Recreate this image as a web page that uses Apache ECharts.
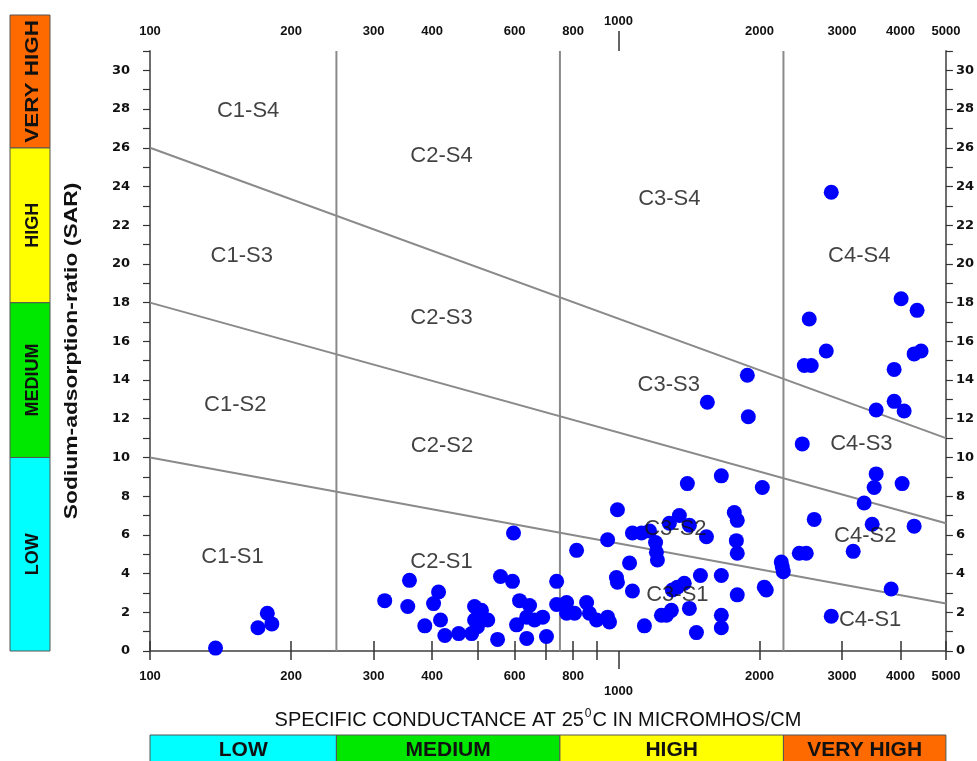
<!DOCTYPE html>
<html>
<head>
<meta charset="utf-8">
<script src="https://cdn.jsdelivr.net/npm/echarts@6/dist/echarts.min.js"></script>
<style>
html, body { margin: 0; padding: 0; background: #fff; }
#main { width: 977px; height: 761px; }
</style>
</head>
<body>
<div id="main"></div>
<script>
// conductance axis (log), ticks and labels
var ecTicks = [100, 200, 300, 400, 500, 600, 700, 800, 900, 2000, 3000, 4000, 5000];
var ecLabels = [100, 200, 300, 400, 600, 800, 2000, 3000, 4000, 5000];
var ecBigTick = [1000];
// salinity classes C1..C4
var ecBreaks = [100, 250, 750, 2250, 5000];
var classNames = ['LOW', 'MEDIUM', 'HIGH', 'VERY HIGH'];
var classColors = ['#00ffff', '#00e800', '#ffff00', '#ff6a00'];
// sodium classes S1..S4 (SAR at EC = 100)
var sarBreaks = [0, 10, 18, 26];
var sarMax = 31;
// class boundary lines, read at EC 100 and EC 5000
var lineS1S2 = [[100, 10], [5000, 2.45]];
var lineS2S3 = [[100, 18], [5000, 6.6]];
var lineS3S4 = [[100, 26], [5000, 11]];
// zone names
var zoneNames = ['C1-S4', 'C2-S4', 'C3-S4', 'C4-S4', 'C1-S3', 'C2-S3', 'C3-S3', 'C4-S3',
                 'C1-S2', 'C2-S2', 'C3-S2', 'C4-S2', 'C1-S1', 'C2-S1', 'C3-S1', 'C4-S1'];
var zoneAt = [[162, 27.9], [419, 25.6], [1284, 23.35], [3265, 20.4],
              [157, 20.4], [419, 17.2], [1280, 13.75], [3300, 10.7],
              [152, 12.7], [420, 10.6], [1323, 6.3], [3363, 5.95],
              [150, 4.85], [419, 4.6], [1336, 2.9], [3445, 1.6]];
// water samples [EC, SAR]
var samples = [
  [138, 0.15], [170, 1.2], [178, 1.95], [182, 1.4],
  [317, 2.6], [358, 3.65], [355, 2.3], [386, 1.3], [403, 2.45], [413, 3.05], [417, 1.6], [426, 0.8],
  [456, 0.9], [493, 2.3], [510, 2.1], [526, 1.6], [493, 1.6], [486, 0.9], [500, 1.25], [552, 0.6],
  [597, 6.1], [560, 3.85], [594, 3.6], [738, 3.6], [615, 2.6], [646, 2.35], [606, 1.35], [637, 1.75],
  [662, 1.6], [689, 1.75], [637, 0.65], [702, 0.75], [738, 2.4],
  [775, 2.5], [775, 1.95], [806, 1.95], [855, 2.5], [867, 1.95], [898, 1.6], [948, 1.75], [957, 1.5],
  [814, 5.2], [948, 5.75], [995, 7.3], [1056, 4.55], [990, 3.8], [995, 3.55], [1071, 3.1], [1136, 1.3],
  [1071, 6.1], [1120, 6.1], [1165, 6.2], [1200, 5.6], [1205, 5.1], [1211, 4.7],
  [1284, 6.6], [1349, 7.0], [1417, 6.5], [1403, 8.65], [1658, 9.05], [2028, 8.45], [1541, 5.9],
  [1767, 7.15], [1793, 6.75], [1785, 5.7], [1793, 5.05],
  [2226, 4.6], [2237, 4.35], [2248, 4.1],
  [1496, 3.9], [1658, 3.9], [2048, 3.3], [2068, 3.15], [1793, 2.9], [1336, 3.3], [1382, 3.5], [1303, 3.15],
  [1417, 2.2], [1297, 2.1], [1266, 1.85], [1235, 1.85], [1467, 0.95], [1658, 1.85], [1658, 1.2],
  [1884, 14.25], [1548, 12.85], [1893, 12.1],
  [2846, 23.7], [2554, 17.15], [2777, 15.5], [2493, 14.75], [2579, 14.75], [4012, 18.2], [4340, 17.6],
  [4277, 15.35], [4426, 15.5], [3877, 14.55], [3877, 12.9], [4072, 12.4], [3549, 12.45], [2468, 10.7],
  [3549, 9.15], [3514, 8.45], [4032, 8.65], [3345, 7.65], [2617, 6.8], [3480, 6.55], [4277, 6.45],
  [3170, 5.15], [2432, 5.05], [2517, 5.05], [3820, 3.2], [2846, 1.8]
];

var SANS = '"Liberation Sans", Arial, sans-serif';
var AXIS_GRAY = '#6e6e6e';
var LINE_GRAY = '#8a8a8a';

var chart = echarts.init(document.getElementById('main'));

function ecAxis(pos, ticks, labels, tickLen, margin, showLine) {
  return {
    type: 'log', logBase: 10, min: 100, max: 5000, position: pos,
    axisLine: { show: showLine, lineStyle: { color: AXIS_GRAY, width: 2 } },
    axisTick: { show: true, customValues: ticks, length: tickLen, lineStyle: { color: '#333', width: 1.5 } },
    axisLabel: { show: true, customValues: labels, margin: margin, fontFamily: SANS,
                 fontWeight: 'bold', fontSize: 13, color: '#111',
                 formatter: function (v) { return String(Math.round(v)); } },
    splitLine: { show: false }
  };
}

function sarAxis(pos, margin) {
  return {
    type: 'value', min: 0, max: sarMax, interval: 1, position: pos,
    axisLine: { show: true, lineStyle: { color: AXIS_GRAY, width: 2 } },
    axisTick: { show: true, length: 7, lineStyle: { color: '#333', width: 1.2 } },
    axisLabel: {
      margin: margin, fontFamily: '"DejaVu Sans", sans-serif', fontWeight: 'bold', fontSize: 13, color: '#111',
      formatter: function (v) { return (v % 2 === 0 && v <= 30) ? String(v) : ''; }
    },
    splitLine: { show: false }
  };
}

var series = [];
// conductivity class dividers
ecBreaks.slice(1, 4).forEach(function (b) {
  series.push({ type: 'line', data: [[b, 0], [b, sarMax]], symbol: 'none', silent: true,
                lineStyle: { color: LINE_GRAY, width: 2 } });
});
[lineS1S2, lineS2S3, lineS3S4].forEach(function (l) {
  series.push({ type: 'line', data: l, symbol: 'none', silent: true,
                lineStyle: { color: LINE_GRAY, width: 2 } });
});
series.push({
  type: 'scatter', data: samples, symbolSize: 15, z: 5,
  itemStyle: { color: '#0000ff', opacity: 1 }
});
series.push({
  type: 'scatter', symbolSize: 0, z: 10, silent: true,
  data: zoneNames.map(function (n, i) { return { name: n, value: zoneAt[i] }; }),
  label: { show: true, position: 'inside', formatter: '{b}', fontFamily: SANS,
           fontSize: 22, color: '#111' }
});

chart.setOption({
  animation: false,
  grid: { left: 150, right: 29, top: 51, bottom: 110 },
  xAxis: [
    ecAxis('bottom', ecTicks, ecLabels, 9, 19, true),
    ecAxis('top', ecTicks, ecLabels, 10, 13, true),
    ecAxis('bottom', ecBigTick, ecBigTick, 18, 34, false),
    ecAxis('top', ecBigTick, ecBigTick, 20, 23, false)
  ],
  yAxis: [sarAxis('left', 20), sarAxis('right', 10)],
  series: series
});

// decorations placed through the axes' own scales
(function () {
  var px = function (v) { return chart.convertToPixel({ xAxisIndex: 0 }, v); };
  var py = function (v) { return chart.convertToPixel({ yAxisIndex: 0 }, v); };
  var g = [];

  // left sodium hazard bar
  var yEdges = sarBreaks.map(function (v) { return py(v); });
  yEdges.push(15);
  for (var i = 0; i < 4; i++) {
    var yTop = yEdges[i + 1], yBot = yEdges[i];
    g.push({ type: 'rect', shape: { x: 10, y: yTop, width: 40, height: yBot - yTop },
             style: { fill: classColors[i], stroke: '#555', lineWidth: 1 } });
    g.push({ type: 'text', x: 33, y: (yTop + yBot) / 2, rotation: Math.PI / 2,
             scaleX: i === 3 ? 1.25 : 1,
             style: { text: classNames[i], font: 'bold 18px ' + SANS, fill: '#111',
                      align: 'center', verticalAlign: 'middle' } });
  }
  // bottom salinity hazard bar
  for (var j = 0; j < 4; j++) {
    var x0 = px(ecBreaks[j]), x1 = px(ecBreaks[j + 1]);
    g.push({ type: 'rect', shape: { x: x0, y: 735, width: x1 - x0, height: 40 },
             style: { fill: classColors[j], stroke: '#555', lineWidth: 1 } });
    g.push({ type: 'text', x: (x0 + x1) / 2, y: 750,
             style: { text: classNames[j], font: 'bold 21px ' + SANS, fill: '#111',
                      align: 'center', verticalAlign: 'middle' } });
  }
  // axis titles
  g.push({ type: 'text', x: 72, y: (py(0) + py(sarMax)) / 2, rotation: Math.PI / 2, scaleX: 1.27,
           style: { text: 'Sodium-adsorption-ratio (SAR)', font: 'bold 18px ' + SANS, fill: '#111',
                    align: 'center', verticalAlign: 'middle' } });
  // x title with superscript 0 in "25 0C"
  var ctx = document.createElement('canvas').getContext('2d');
  var partA = 'SPECIFIC CONDUCTANCE AT 25', partB = 'C IN MICROMHOS/CM';
  ctx.font = '20px ' + SANS;
  var wA = ctx.measureText(partA).width, wB = ctx.measureText(partB).width;
  ctx.font = '12px ' + SANS;
  var wS = ctx.measureText('0').width + 2;
  var xStart = 538 - (wA + wS + wB) / 2;
  g.push({ type: 'text', x: xStart, y: 720,
           style: { text: partA, font: '20px ' + SANS, fill: '#111', align: 'left', verticalAlign: 'middle' } });
  g.push({ type: 'text', x: xStart + wA + 1, y: 714,
           style: { text: '0', font: '12px ' + SANS, fill: '#111', align: 'left', verticalAlign: 'middle' } });
  g.push({ type: 'text', x: xStart + wA + wS, y: 720,
           style: { text: partB, font: '20px ' + SANS, fill: '#111', align: 'left', verticalAlign: 'middle' } });

  chart.setOption({ graphic: { elements: g } });
})();
</script>
</body>
</html>
